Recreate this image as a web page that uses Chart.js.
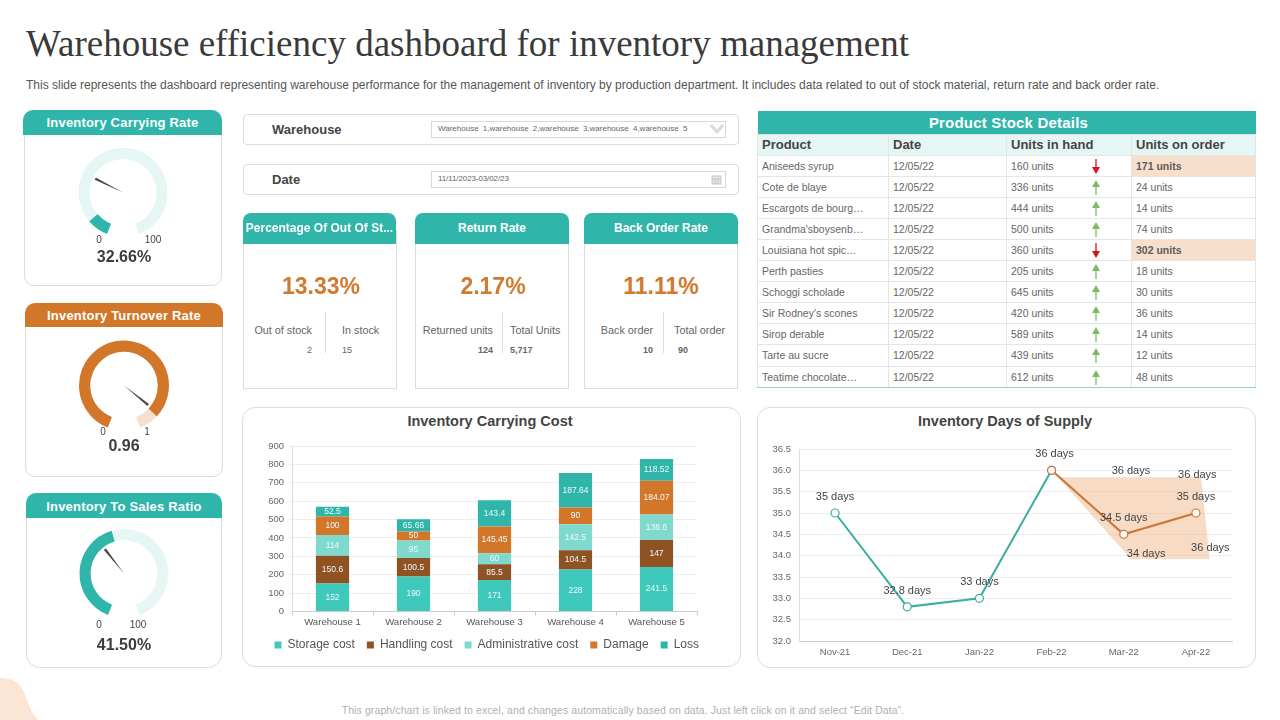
<!DOCTYPE html>
<html>
<head>
<meta charset="utf-8">
<title>Warehouse efficiency dashboard</title>
<script src="https://cdn.jsdelivr.net/npm/chart.js@4"></script>
<style>
html, body { margin: 0; padding: 0; background: #fff; }
body { width: 1280px; height: 720px; position: relative; overflow: hidden; font-family: "Liberation Sans", Arial, sans-serif; color: #444; }
.abs, canvas { position: absolute; }
.t { position: absolute; white-space: nowrap; line-height: 1; transform: translateY(-50%); }
.c { transform: translate(-50%, -50%); }
.r { transform: translate(-100%, -50%); }
.box { position: absolute; box-sizing: border-box; background: #fff; border: 1px solid #dcdcdc; }
.head { position: absolute; box-sizing: border-box; color: #fff; font-weight: bold; text-align: center; }
.big { font-weight: bold; font-size: 23px; color: #d07a30; }
.sm { font-size: 10.8px; color: #666; }
.val { font-size: 9px; color: #666; }
.b { font-weight: bold; }
.gl { font-size: 10px; color: #444; }
.gv { font-size: 16px; font-weight: bold; color: #3c3c3c; }
#stock { position: absolute; left: 757px; top: 111px; width: 498px; border-collapse: collapse; table-layout: fixed; font-size: 10.5px; color: #666; }
#stock td, #stock th { padding: 0 0 0 4px; height: 21.1px; box-sizing: border-box; border: 1px solid #e2e6e6; text-align: left; font-weight: normal; position: relative; white-space: nowrap; overflow: hidden; }
#stock .top { background: #30b5aa; color: #fff; font-weight: bold; font-size: 15px; letter-spacing: .2px; text-align: center; height: 23px; border: 0; }
#stock .hd { background: #e6f6f5; color: #444; font-weight: bold; font-size: 13px; }
#stock .low { background: #f8dfcb; font-weight: bold; color: #5c5c5c; }
#stock tr:last-child td { border-bottom: 1.5px solid #8fd3cc; }
#stock svg { position: absolute; left: 83px; top: 2px; }
</style>
</head>
<body>

<div class="t" style="left:26px;top:43px;font-family:'Liberation Serif',serif;font-size:37px;color:#3a3a3a">Warehouse efficiency dashboard for inventory management</div>
<div class="t" style="left:26px;top:85px;font-size:12px;color:#555">This slide represents the dashboard representing warehouse performance for the management of inventory by production department. It includes data related to out of stock material, return rate and back order rate.</div>

<!-- left gauges -->
<div class="box" style="left:24px;top:125px;width:198px;height:161px;border-radius:0 0 10px 10px"></div>
<div class="head" style="left:23px;top:110px;width:199px;height:25px;line-height:25px;font-size:13px;letter-spacing:.2px;background:#30b5aa;border-radius:10px 10px 0 0">Inventory Carrying Rate</div>
<div class="box" style="left:25px;top:320px;width:198px;height:157px;border-radius:0 0 10px 10px"></div>
<div class="head" style="left:25px;top:303px;width:198px;height:24px;line-height:25px;font-size:13px;letter-spacing:.2px;background:#d2762a;border-radius:10px 10px 0 0">Inventory Turnover Rate</div>
<div class="box" style="left:26px;top:510px;width:196px;height:158px;border-radius:0 0 14px 14px"></div>
<div class="head" style="left:26px;top:493px;width:196px;height:25px;line-height:27px;font-size:13px;letter-spacing:.2px;background:#30b5aa;border-radius:10px 10px 0 0">Inventory To Sales Ratio</div>

<canvas id="gauge1" width="110" height="110" style="left:68px;top:136px"></canvas>
<canvas id="gauge2" width="110" height="110" style="left:69px;top:329px"></canvas>
<canvas id="gauge3" width="110" height="110" style="left:69px;top:517px"></canvas>

<div class="t gl c" style="left:99px;top:240px">0</div>
<div class="t gl c" style="left:153px;top:240px">100</div>
<div class="t gv c" style="left:124px;top:257px">32.66%</div>
<div class="t gl c" style="left:103px;top:432px">0</div>
<div class="t gl c" style="left:147px;top:432px">1</div>
<div class="t gv c" style="left:124px;top:446px">0.96</div>
<div class="t gl c" style="left:99px;top:625px">0</div>
<div class="t gl c" style="left:138px;top:625px">100</div>
<div class="t gv c" style="left:124px;top:645px">41.50%</div>

<!-- filters -->
<div class="box" style="left:243px;top:114px;width:496px;height:31px;border-radius:4px"></div>
<div class="t b" style="left:272px;top:129px;font-size:13px">Warehouse</div>
<div class="box" style="left:431px;top:121px;width:295px;height:17px;border-color:#d8d8d8"></div>
<div class="t" style="left:438px;top:129px;font-size:8px;color:#666;word-spacing:2px">Warehouse 1,warehouse 2,warehouse 3,warehouse 4,warehouse 5</div>
<svg class="abs" style="left:710px;top:124px" width="14" height="10"><path d="M1 1 L7 8 L13 1" fill="none" stroke="#d8dcdc" stroke-width="3"/></svg>
<div class="box" style="left:243px;top:164px;width:496px;height:31px;border-radius:4px"></div>
<div class="t b" style="left:272px;top:179px;font-size:13px">Date</div>
<div class="box" style="left:431px;top:171px;width:295px;height:17px;border-color:#d8d8d8"></div>
<div class="t" style="left:438px;top:179px;font-size:8px;color:#666;letter-spacing:-.1px">11/11/2023-03/02/23</div>
<svg class="abs" style="left:711px;top:174px" width="11" height="11"><rect x="1" y="2" width="9" height="8" fill="#e4e6e6" stroke="#c4c8c8"/><path d="M1 5H10M4 5V10M7 5V10" stroke="#b8bcbc" stroke-width=".7"/></svg>

<!-- kpi cards -->
<div class="box" style="left:243px;top:230px;width:154px;height:159px"></div>
<div class="head" style="left:243px;top:213px;width:153px;height:31px;line-height:31px;font-size:12px;background:#30b5aa;border-radius:8px 8px 0 0;white-space:nowrap;overflow:hidden">Percentage Of Out Of St...</div>
<div class="box" style="left:415px;top:230px;width:154px;height:159px"></div>
<div class="head" style="left:415px;top:213px;width:154px;height:31px;line-height:31px;font-size:12px;background:#30b5aa;border-radius:8px 8px 0 0">Return Rate</div>
<div class="box" style="left:584px;top:230px;width:154px;height:159px"></div>
<div class="head" style="left:584px;top:213px;width:154px;height:31px;line-height:31px;font-size:12px;background:#30b5aa;border-radius:8px 8px 0 0">Back Order Rate</div>

<div class="t big c" style="left:321px;top:286px">13.33%</div>
<div class="t big c" style="left:493px;top:286px">2.17%</div>
<div class="t big c" style="left:661px;top:286px">11.11%</div>

<div class="abs" style="left:325px;top:312px;width:1px;height:41px;background:#ddd"></div>
<div class="abs" style="left:502px;top:312px;width:1px;height:41px;background:#ddd"></div>
<div class="abs" style="left:663px;top:312px;width:1px;height:41px;background:#ddd"></div>
<div class="t sm r" style="left:312px;top:330px">Out of stock</div>
<div class="t sm" style="left:342px;top:330px">In stock</div>
<div class="t val r" style="left:312px;top:350px">2</div>
<div class="t val" style="left:342px;top:350px">15</div>
<div class="t sm r" style="left:493px;top:330px">Returned units</div>
<div class="t sm" style="left:510px;top:330px">Total Units</div>
<div class="t val b r" style="left:493px;top:350px">124</div>
<div class="t val b" style="left:510px;top:350px">5,717</div>
<div class="t sm r" style="left:653px;top:330px">Back order</div>
<div class="t sm" style="left:674px;top:330px">Total order</div>
<div class="t val b r" style="left:653px;top:350px">10</div>
<div class="t val b" style="left:678px;top:350px">90</div>

<!-- stock table -->
<table id="stock"></table>

<!-- chart cards -->
<div class="box" style="left:242px;top:407px;width:499px;height:260px;border-radius:13px"></div>
<div class="t c b" style="left:490px;top:421px;font-size:14.5px;color:#444">Inventory Carrying Cost</div>
<canvas id="costChart" width="499" height="230" style="left:242px;top:435px"></canvas>
<div class="box" style="left:757px;top:407px;width:499px;height:261px;border-radius:13px"></div>
<div class="t c b" style="left:1005px;top:421px;font-size:14.5px;color:#444">Inventory Days of Supply</div>
<canvas id="daysChart" width="499" height="230" style="left:757px;top:435px"></canvas>

<svg class="abs" style="left:0;top:670px" width="50" height="50"><path d="M0 8 C15 8 22 15 26 27 C29 37 33 45 38 50 L0 50Z" fill="#fbe6d6"/></svg>
<div class="t c" style="left:623px;top:710px;font-size:10.5px;color:#b0b0b0;letter-spacing:.1px">This graph/chart is linked to excel, and changes automatically based on data. Just left click on it and select “Edit Data”.</div>

<script>
// bar chart data
const warehouses = ['Warehouse 1', 'Warehouse 2', 'Warehouse 3', 'Warehouse 4', 'Warehouse 5'];
const storageCost = [152, 190, 171, 228, 241.5];
const handlingCost = [150.6, 100.5, 85.5, 104.5, 147];
const adminCost = [114, 95, 60, 142.5, 138.6];
const damageCost = [100, 50, 145.45, 90, 184.07];
const lossCost = [52.5, 65.66, 143.4, 187.64, 118.52];

// line chart data
const months = ['Nov-21', 'Dec-21', 'Jan-22', 'Feb-22', 'Mar-22', 'Apr-22'];
const actualDays = [35, 32.8, 33, 36];
const forecastDays = [36, 34.5, 35];
const forecastStart = 3;
const bandX = [3, 3.08, 5.07, 5.19, 4.10, 3];
const bandY = [36, 35.84, 35.84, 33.92, 33.92, 36];
const looseLabelX = [4.10, 5.02, 5.20, 4.31];
const looseLabelY = [35.99, 35.90, 34.19, 34.03];
const looseLabelText = ['36 days', '36 days', '36 days', '34 days'];

// gauges: share of the arc filled, needle position, both on a 0-100 sweep
const gaugeFill = [9, 92, 45];
const gaugeNeedle = [30, 90.5, 38];

// table
const products = ['Aniseeds syrup', 'Cote de blaye', 'Escargots de bourg…', "Grandma'sboysenb…", 'Louisiana hot spic…', 'Perth pasties', 'Schoggi scholade', "Sir Rodney's scones", 'Sirop derable', 'Tarte au sucre', 'Teatime chocolate…'];
const unitsInHand = [160, 336, 444, 500, 360, 205, 645, 420, 589, 439, 612];
const unitsOnOrder = [171, 24, 14, 74, 302, 18, 30, 36, 14, 12, 48];
const stockDate = '12/05/22';

// build table
var rows = '<colgroup><col style="width:131px"><col style="width:118px"><col style="width:125px"><col style="width:124px"></colgroup>';
rows += '<tr><td class="top" colspan="4">Product Stock Details</td></tr>';
rows += '<tr><td class="hd">Product</td><td class="hd">Date</td><td class="hd">Units in hand</td><td class="hd">Units on order</td></tr>';
products.forEach((p, i) => {
    var low = unitsOnOrder[i] > 100;
    var arrow = low
        ? '<svg width="12" height="17"><path d="M6 1V11" stroke="#d9121f" stroke-width="1.3"/><path d="M2 9H10L6 16Z" fill="#d9121f"/></svg>'
        : '<svg width="12" height="17"><path d="M6 7V16" stroke="#7dbb63" stroke-width="1.3"/><path d="M2 8H10L6 1Z" fill="#7dbb63"/></svg>';
    rows += '<tr><td>' + p + '</td><td>' + stockDate + '</td><td>' + unitsInHand[i] + ' units' + arrow + '</td>'
        + '<td' + (low ? ' class="low"' : '') + '>' + unitsOnOrder[i] + ' units</td></tr>';
});
document.getElementById('stock').innerHTML = rows;

// white numbers in the middle of each bar segment
const barLabels = {
    id: 'barLabels',
    afterLayout(chart) {
        // legend sits a bit right of the plot's right edge
        chart.legend.right += 14;
    },
    afterDatasetsDraw(chart) {
        var c = chart.ctx;
        c.save();
        c.font = '8.5px "Liberation Sans"';
        c.fillStyle = '#eefafa';
        c.textAlign = 'center';
        c.textBaseline = 'middle';
        chart.data.datasets.forEach((ds, i) => {
            chart.getDatasetMeta(i).data.forEach((el, j) => {
                var p = el.getCenterPoint();
                c.fillText(ds.data[j], p.x, p.y);
            });
        });
        c.restore();
    }
};

new Chart(document.getElementById('costChart'), {
    type: 'bar',
    data: {
        labels: warehouses,
        datasets: [
            { label: 'Storage cost', data: storageCost, backgroundColor: '#3fc8bc' },
            { label: 'Handling cost', data: handlingCost, backgroundColor: '#8f5223' },
            { label: 'Administrative cost', data: adminCost, backgroundColor: '#7fd9cd' },
            { label: 'Damage', data: damageCost, backgroundColor: '#d2762a' },
            { label: 'Loss', data: lossCost, backgroundColor: '#30b5aa' }
        ]
    },
    options: {
        responsive: false,
        animation: false,
        layout: { padding: { top: 11, right: 44, bottom: 4 } },
        datasets: { bar: { categoryPercentage: 1, barPercentage: 0.41 } },
        plugins: {
            legend: {
                position: 'bottom',
                align: 'end',
                labels: { boxWidth: 7, boxHeight: 7, padding: 12, color: '#555', font: { size: 12, family: 'Liberation Sans' } }
            },
            tooltip: { enabled: false }
        },
        scales: {
            x: {
                stacked: true,
                afterFit: (s) => { s.height = 15.5; },
                grid: { drawOnChartArea: false, tickLength: 4, color: '#ccc' },
                border: { color: '#ccc' },
                ticks: { padding: 1, maxRotation: 0, color: '#555', font: { size: 9.6, family: 'Liberation Sans' } }
            },
            y: {
                stacked: true,
                min: 0,
                max: 900,
                afterFit: (s) => { s.width = 50; },
                grid: { color: '#eeeeee', tickLength: 3 },
                border: { color: '#ddd' },
                ticks: { stepSize: 100, padding: 5, color: '#666', font: { size: 9.5, family: 'Liberation Sans' } }
            }
        }
    },
    plugins: [barLabels]
});

// text labels for the line chart, 16px over each point of the two lines
const dayLabels = {
    id: 'dayLabels',
    afterDatasetsDraw(chart) {
        var c = chart.ctx;
        c.save();
        c.font = '11px "Liberation Sans"';
        c.fillStyle = '#444';
        c.textAlign = 'center';
        c.textBaseline = 'middle';
        chart.data.datasets.forEach((ds, i) => {
            if (ds.textAt == 'band') return;
            chart.getDatasetMeta(i).data.forEach((el, j) => {
                if (ds.textAt == 'loose') {
                    c.fillText(looseLabelText[j], el.x, el.y);
                } else if (i == 0) {
                    c.fillText(ds.data[j].y + ' days', el.x + (j == 3 ? 3 : 0), el.y - 16);
                } else if (j > 0) {
                    c.fillText(ds.data[j].y + ' days', el.x, el.y - 16);
                }
            });
        });
        c.restore();
    }
};

function toPoints(xs, ys) {
    return xs.map((x, i) => ({ x: x, y: ys[i] }));
}

new Chart(document.getElementById('daysChart'), {
    type: 'line',
    data: {
        datasets: [
            {
                data: actualDays.map((v, i) => ({ x: i, y: v })),
                borderColor: '#3aaea0', borderWidth: 2, tension: 0,
                pointRadius: 4, pointBackgroundColor: '#fff', pointBorderColor: '#3aaea0', pointBorderWidth: 1.2, order: 2
            },
            {
                data: forecastDays.map((v, i) => ({ x: forecastStart + i, y: v })),
                borderColor: '#c9763a', borderWidth: 2, tension: 0,
                pointRadius: 4, pointBackgroundColor: '#fff', pointBorderColor: '#c9763a', pointBorderWidth: 1.2, order: 1
            },
            {
                textAt: 'band',
                data: toPoints(bandX, bandY),
                borderWidth: 0, pointRadius: 0, tension: 0,
                fill: 'shape', backgroundColor: 'rgba(240,190,150,.55)', order: 3
            },
            {
                textAt: 'loose',
                data: toPoints(looseLabelX, looseLabelY),
                showLine: false, pointRadius: 0, order: 4
            }
        ]
    },
    options: {
        responsive: false,
        animation: false,
        layout: { padding: { top: 14, right: 24 } },
        plugins: { legend: { display: false }, tooltip: { enabled: false } },
        scales: {
            x: {
                type: 'linear',
                min: -0.5,
                max: 5.5,
                afterBuildTicks: (s) => { s.ticks = months.map((m, i) => ({ value: i })); },
                afterFit: (s) => { s.height = 24; },
                grid: { display: false, drawTicks: false },
                border: { color: '#ccc' },
                ticks: { padding: 6, autoSkip: false, maxRotation: 0, color: '#666', font: { size: 9.5, family: 'Liberation Sans' }, callback: (v) => months[v] }
            },
            y: {
                min: 32,
                max: 36.5,
                afterFit: (s) => { s.width = 42; },
                grid: { color: '#eeeeee', drawTicks: false },
                border: { color: '#ddd' },
                ticks: { stepSize: 0.5, padding: 8, color: '#666', font: { size: 9.5, family: 'Liberation Sans' }, callback: (v) => v.toFixed(1) }
            }
        }
    },
    plugins: [dayLabels]
});

// needle for the gauges
const needle = {
    id: 'needle',
    afterDatasetsDraw(chart) {
        var arc = chart.getDatasetMeta(0).data[0];
        var o = chart.options;
        var deg = o.rotation + o.circumference * chart.config.options.needleAt / 100;
        var a = (deg - 90) * Math.PI / 180;
        var len = 31, c = chart.ctx;
        c.save();
        c.translate(arc.x, arc.y);
        c.rotate(a);
        c.beginPath();
        c.moveTo(0, 0);
        c.lineTo(len, -1.3);
        c.lineTo(len, 1.3);
        c.closePath();
        c.fillStyle = '#4a4a4a';
        c.fill();
        c.restore();
    }
};

function gauge(id, i, on, off, r) {
    new Chart(document.getElementById(id), {
        type: 'doughnut',
        data: { datasets: [{ data: [gaugeFill[i], 100 - gaugeFill[i]], backgroundColor: [on, off], borderWidth: 0 }] },
        options: {
            responsive: false,
            animation: false,
            rotation: -159,
            circumference: 318,
            radius: r,
            cutout: '75%',
            needleAt: gaugeNeedle[i],
            plugins: { legend: { display: false }, tooltip: { enabled: false } }
        },
        plugins: [needle]
    });
}
gauge('gauge1', 0, '#30b5aa', '#e6f6f5', 44.5);
gauge('gauge2', 1, '#d2762a', '#f5dfcd', 45);
gauge('gauge3', 2, '#30b5aa', '#e6f6f5', 44.5);
</script>
</body>
</html>
